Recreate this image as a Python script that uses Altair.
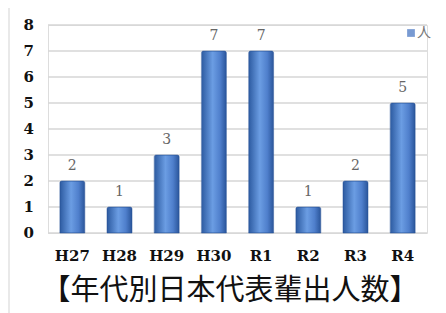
import altair as alt
import pandas as pd

years = ["H27", "H28", "H29", "H30", "R1", "R2", "R3", "R4"]
counts = [2, 1, 3, 7, 7, 1, 2, 5]
y_ticks = [0, 1, 2, 3, 4, 5, 6, 7, 8]
series_name = "人"
title_text = "【年代別日本代表輩出人数】"

df = pd.DataFrame({"year": years, "count": counts})
tick_df = pd.DataFrame({"v": y_ticks})

grad = alt.Gradient(
    gradient="linear",
    stops=[
        alt.GradientStop(color="#2c5aa0", offset=0),
        alt.GradientStop(color="#6b9de3", offset=0.45),
        alt.GradientStop(color="#4f7fcc", offset=0.75),
        alt.GradientStop(color="#2a559a", offset=1),
    ],
    x1=0, x2=1, y1=0, y2=0,
)

yscale = alt.Scale(domain=[0, 8], nice=False)

grid = alt.Chart(tick_df).mark_rule(color="#d6d6d6", strokeWidth=1.5).encode(
    y=alt.Y("v:Q", scale=yscale, axis=None),
    x=alt.value(0), x2=alt.value(379),
)
ylabels = alt.Chart(tick_df).mark_text(
    align="right", baseline="middle", font="DejaVu Serif", fontWeight="bold",
    fontSize=15, color="#111").encode(
    y=alt.Y("v:Q", scale=yscale, axis=None),
    x=alt.value(-14), text=alt.Text("v:Q"),
)

frame = alt.Chart(pd.DataFrame({"f": [0]})).mark_rule(color="#e2e2e2", strokeWidth=1.5).encode(
    x=alt.value(-39), y=alt.value(-17), y2=alt.value(288))

base = alt.Chart(df).encode(
    x=alt.X("year:N", sort=years,
            scale=alt.Scale(paddingInner=0.47, paddingOuter=0.25),
            axis=alt.Axis(title=None, labelAngle=0, ticks=False, domain=False,
                          labelFont="DejaVu Serif", labelFontWeight="bold",
                          labelFontSize=15, labelColor="#111", labelPadding=15)),
    y=alt.Y("count:Q", scale=yscale, axis=None),
)

bars = base.mark_bar(stroke="#2a5599", strokeWidth=0.5, cornerRadiusTopLeft=2,
                     cornerRadiusTopRight=2, fill=grad)

labels = base.mark_text(baseline="bottom", dy=-8, font="DejaVu Serif",
                        fontSize=14, color="#666").encode(
    text=alt.Text("count:Q"),
)

legend_df = pd.DataFrame({"series": [series_name]})
legend_sym = alt.Chart(legend_df).mark_square(size=60, color="#3f6fbf").encode(
    x=alt.value(363), y=alt.value(8))
legend_txt = alt.Chart(legend_df).mark_text(
    align="left", baseline="middle", font="Noto Sans CJK JP", fontSize=14,
    color="#777").encode(x=alt.value(369), y=alt.value(8), text="series:N")

title_df = pd.DataFrame({"t": [title_text]})
title = alt.Chart(title_df).mark_text(
    align="center", baseline="middle", font="Noto Sans CJK JP", fontSize=29,
    color="#111").encode(x=alt.value(182), y=alt.value(266), text="t:N")

chart = alt.layer(frame, grid, ylabels, bars, labels, legend_sym, legend_txt, title).properties(
    width=379, height=208,
    autosize=alt.AutoSizeParams(type="none"),
    padding={"left": 40, "top": 17, "right": 11, "bottom": 80},
).configure_view(stroke=None).configure(background="white")

chart.save("out.html", embed_options={"renderer": "svg", "actions": False})
